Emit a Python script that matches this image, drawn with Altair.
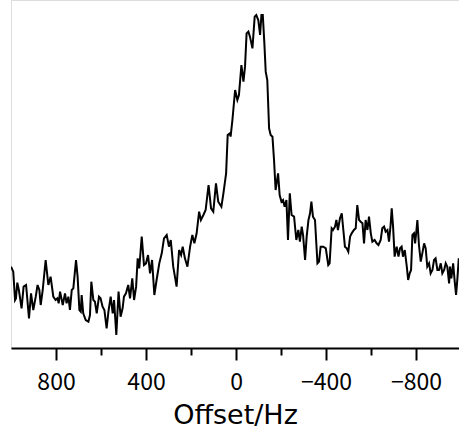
import altair as alt
import pandas as pd

# Offset (Hz)
offset_hz = [
    1000, 990, 982, 978, 972, 965, 953, 944, 933, 920, 911, 901, 890, 882, 874, 868, 859, 846, 834, 824,
    812, 802, 794, 788, 782, 770, 760, 753, 745, 738, 730, 723, 711, 704, 696, 690, 686, 679, 668, 656,
    649, 643, 634, 627, 619, 609, 602, 593, 585, 575, 567, 557, 548, 542, 532, 522, 513, 504, 498, 489,
    479, 471, 461, 453, 444, 437, 430, 419, 409, 400, 391, 382, 373, 363, 353, 341, 330, 320, 308, 298,
    290, 279, 264, 253, 244, 237, 227, 216, 204, 194, 185, 175, 164, 156, 145, 135, 122, 111, 101, 89,
    79, 65, 56, 44, 37, 27, 24, 16, 4, -6, -13, -24, -33, -40, -47, -55, -62, -73, -83, -90,
    -99, -107, -113, -119, -126, -132, -139, -147, -154, -162, -169, -176, -187, -194, -202, -209, -216, -224, -231, -239,
    -247, -258, -268, -277, -284, -292, -298, -307, -314, -322, -329, -335, -342, -351, -362, -369, -376, -388, -399, -410,
    -416, -425, -431, -440, -446, -453, -462, -470, -477, -484, -492, -499, -507, -514, -524, -532, -539, -547, -554, -562,
    -569, -576, -584, -591, -599, -606, -616, -625, -633, -643, -650, -658, -665, -673, -680, -687, -692, -698, -705, -714,
    -722, -729, -736, -742, -750, -759, -765, -772, -778, -784, -791, -796, -802, -806, -813, -821, -828, -836, -843, -850,
    -858, -865, -873, -880, -887, -895, -902, -910, -917, -925, -932, -939, -947, -951, -957, -965, -972, -978, -984, -990,
]

# Intensity (arbitrary units)
intensity = [
    25.0, 23.5, 15.0, 15.5, 20.2, 18.0, 12.5, 19.0, 19.5, 9.5, 17.0, 12.0, 16.0, 19.5, 18.0, 13.5, 18.0, 27.0, 19.5, 22.0,
    16.0, 15.0, 15.5, 14.0, 17.5, 13.5, 17.0, 14.0, 16.0, 12.0, 18.0, 18.5, 27.0, 22.0, 12.0, 11.5, 16.5, 11.0, 9.0, 8.5,
    10.5, 20.5, 15.0, 14.5, 11.0, 16.0, 15.5, 13.0, 12.0, 6.5, 11.5, 16.0, 11.0, 15.0, 4.5, 17.5, 10.0, 12.5, 16.0, 17.0,
    19.5, 15.5, 21.5, 15.0, 19.0, 27.5, 24.5, 34.0, 25.5, 26.0, 28.5, 23.0, 27.0, 16.5, 21.0, 26.0, 29.0, 33.5, 34.5, 31.0,
    33.0, 25.0, 19.0, 30.0, 28.5, 31.0, 27.5, 25.0, 31.0, 34.5, 32.0, 35.0, 41.5, 39.0, 40.5, 42.0, 49.5, 42.5, 41.5, 50.0,
    44.5, 43.0, 47.0, 53.0, 64.5, 65.0, 64.0, 69.0, 78.0, 75.0, 76.5, 85.5, 80.5, 85.0, 95.0, 95.5, 94.0, 90.5, 100.0, 100.5,
    99.0, 94.5, 100.5, 100.5, 92.0, 83.5, 81.0, 66.5, 64.5, 64.0, 57.0, 48.0, 53.0, 46.5, 44.5, 45.0, 43.0, 45.0, 33.0, 47.0,
    40.5, 40.0, 33.0, 36.0, 32.5, 37.0, 34.5, 27.0, 34.0, 39.0, 41.0, 44.5, 40.0, 39.0, 26.0, 26.5, 31.0, 31.0, 30.5, 25.5,
    26.0, 36.5, 36.0, 37.0, 39.0, 36.0, 39.5, 41.0, 36.0, 31.0, 30.5, 29.5, 34.0, 35.0, 36.0, 36.5, 43.5, 39.0, 38.5, 38.0,
    32.0, 39.0, 36.0, 40.0, 35.0, 32.5, 33.0, 32.0, 31.5, 33.0, 36.5, 37.0, 35.5, 36.0, 32.5, 37.5, 42.5, 37.0, 28.0, 31.0,
    28.0, 30.5, 31.0, 28.0, 30.0, 25.0, 21.0, 23.0, 24.0, 34.5, 35.0, 32.0, 36.0, 39.0, 31.5, 26.5, 29.0, 32.0, 30.5, 25.0,
    26.0, 23.0, 24.0, 27.0, 27.5, 24.0, 24.0, 26.0, 23.0, 24.0, 26.0, 25.0, 20.0, 25.0, 21.5, 26.0, 20.5, 16.5, 21.5, 27.5,
]

tick_values = [800, 600, 400, 200, 0, -200, -400, -600, -800]

df = pd.DataFrame({"offset": offset_hz, "intensity": intensity, "order": range(len(offset_hz))})

FONT = "Noto Sans CJK JP"
TITLE_FONT = "DejaVu Sans"

chart = (
    alt.Chart(df)
    .mark_line(color="black", strokeWidth=2, clip=True)
    .encode(
        x=alt.X(
            "offset:Q",
            scale=alt.Scale(domain=[1000, -991], nice=False, zero=False),
            axis=alt.Axis(
                title="Offset/Hz",
                values=tick_values,
                labelExpr="datum.value % 400 === 0 ? datum.label : ''",
                tickSize=alt.ExprRef(expr="datum.value % 400 === 0 ? 12 : 7"),
                grid=False,
                domainColor="black",
                domainWidth=2,
                tickColor="black",
                tickWidth=2,
                labelColor="black",
                labelFont=FONT,
                labelFontSize=23,
                labelPadding=11,
                labelFlush=False,
                titleColor="black",
                titleFont=TITLE_FONT,
                titleFontSize=27,
                titleFontWeight="normal",
                titlePadding=8,
            ),
        ),
        y=alt.Y(
            "intensity:Q",
            scale=alt.Scale(domain=[0.6, 105], nice=False, zero=False),
            axis=None,
        ),
        order="order:Q",
    )
    .properties(
        width=448,
        height=348,
        autosize=alt.AutoSizeParams(type="none"),
        padding={"left": 11, "top": 0, "right": 0, "bottom": 80},
    )
    .configure_view(stroke=None)
    .configure(background="white")
)

chart.save("out.html", embed_options={"renderer": "svg", "actions": False})
